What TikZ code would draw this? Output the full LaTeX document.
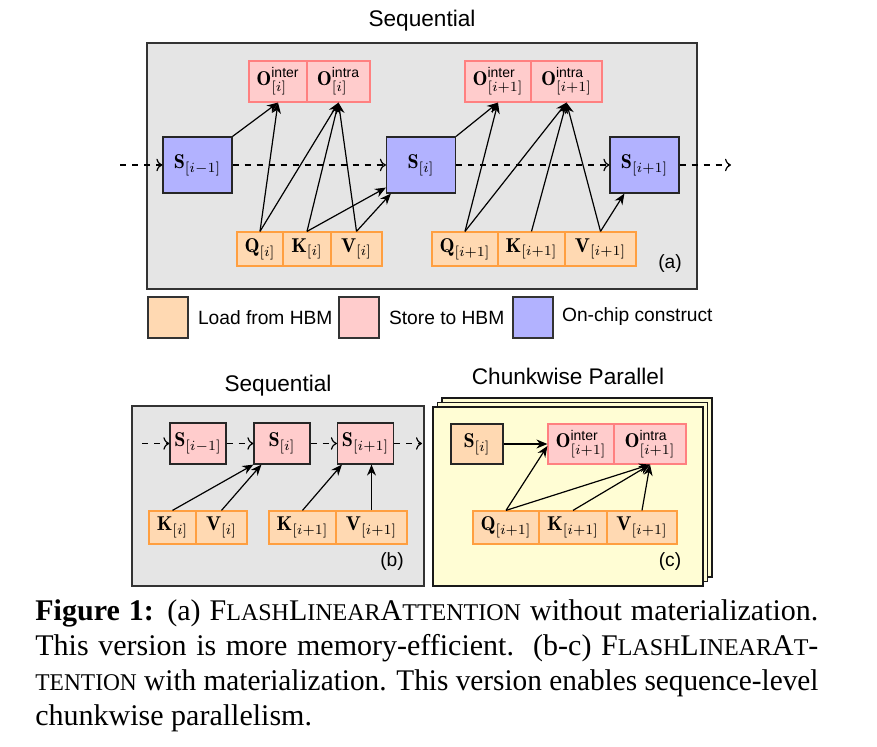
\documentclass[tikz,border=0pt]{standalone}
\usepackage{fontspec}
\usepackage{amsmath}
\usepackage{graphicx}
\setsansfont{Liberation Sans}
\newfontfamily\capfont{Liberation Serif}
\usetikzlibrary{arrows.meta,calc}
\newcommand{\fsc}[1]{{\fontsize{12}{17.5}\selectfont #1}}
\newsavebox{\jlinebox}
\newcommand{\jline}[1]{\sbox{\jlinebox}{#1}\ifdim\wd\jlinebox>391.5pt\relax\resizebox{391.5pt}{\height}{#1}\else\makebox[391.5pt][s]{#1}\fi}
\tikzset{
  box/.style={rectangle, inner sep=0pt, font=\fontsize{10}{12}\selectfont, line width=0.6pt},
  ld/.style={box, fill=orange!30, draw=orange!75},
  st/.style={box, fill=red!20, draw=red!50},
  chip/.style={box, fill=blue!30, draw=black!85},
  stb/.style={box, fill=red!20, draw=black!85},
  ldb/.style={box, fill=orange!30, draw=black!85},
  panel/.style={fill=black!10, draw=black!80, line width=0.8pt},
  page/.style={fill=yellow!17, draw=black!90, line width=0.8pt},
  arr/.style={-{Stealth[length=5.5pt,width=4.5pt]}, line width=0.6pt},
  darr/.style={-{To[length=3pt]}, dashed, line width=0.6pt},
  ttl/.style={font=\sffamily\fontsize{11.3}{13}\selectfont},
  lbl/.style={font=\sffamily\fontsize{9.6}{11}\selectfont},
  leg/.style={rectangle, draw=black!80, line width=0.6pt, minimum width=20pt, minimum height=20.5pt, inner sep=0pt}
}
\begin{document}
\begin{tikzpicture}[x=0.5pt,y=-0.5pt]
\useasboundingbox (0,0) rectangle (877,747);

% ---------- panel (a) ----------
\node[ttl] (ta) at (422,21) {Sequential};
\draw[panel] (147,43) rectangle (697,289);
\node[lbl] (la) at (670,264) {(a)};

\node[chip, minimum width=34.5pt, minimum height=28pt] (sa0) at (197.5,165) {$\mathbf{S}_{[i-1]}$};
\node[chip, minimum width=34.5pt, minimum height=28pt] (sa1) at (421,165) {$\mathbf{S}_{[i]}$};
\node[chip, minimum width=34.5pt, minimum height=28pt] (sa2) at (644.5,165) {$\mathbf{S}_{[i+1]}$};

\node[st, minimum width=29pt, minimum height=20.5pt] (oa1) at (278,81.5) {$\mathbf{O}^{\textsf{inter}}_{[i]}$};
\node[st, minimum width=31.5pt, minimum height=20.5pt] (oa2) at (338.5,81.5) {$\mathbf{O}^{\textsf{intra}}_{[i]}$};
\node[st, minimum width=33pt, minimum height=20.5pt] (ob1) at (498,81.5) {$\mathbf{O}^{\textsf{inter}}_{[i+1]}$};
\node[st, minimum width=35.5pt, minimum height=20.5pt] (ob2) at (566.5,81.5) {$\mathbf{O}^{\textsf{intra}}_{[i+1]}$};

\node[ld, minimum width=23pt, minimum height=17pt] (qa) at (260,249) {$\mathbf{Q}_{[i]}$};
\node[ld, minimum width=24pt, minimum height=17pt] (ka) at (307,249) {$\mathbf{K}_{[i]}$};
\node[ld, minimum width=25.5pt, minimum height=17pt] (va) at (356.5,249) {$\mathbf{V}_{[i]}$};
\node[ld, minimum width=33pt, minimum height=17pt] (qb) at (465,249) {$\mathbf{Q}_{[i+1]}$};
\node[ld, minimum width=33.5pt, minimum height=17pt] (kb) at (531.5,249) {$\mathbf{K}_{[i+1]}$};
\node[ld, minimum width=35.5pt, minimum height=17pt] (vb) at (600.5,249) {$\mathbf{V}_{[i+1]}$};

\coordinate (ina) at (120,165);
\coordinate (outa) at (731,165);
\draw[darr] (ina) -- (sa0);
\draw[darr] (sa0) -- (sa1);
\draw[darr] (sa1) -- (sa2);
\draw[darr] (sa2) -- (outa);

\draw[arr] (sa0.north east) -- (oa1.south);
\draw[arr] (qa.north) -- (oa1.south);
\draw[arr] (qa.north) -- (oa2.south);
\draw[arr] (ka.north) -- (oa2.south);
\draw[arr] (va.north) -- (oa2.south);
\draw[arr] (ka.north) -- ([yshift=3pt]sa1.south west);
\draw[arr] (va.north) -- ([xshift=2.5pt]sa1.south west);

\draw[arr] (sa1.north east) -- (ob1.south);
\draw[arr] (qb.north) -- (ob1.south);
\draw[arr] (qb.north) -- (ob2.south);
\draw[arr] (kb.north) -- (ob2.south);
\draw[arr] (vb.north) -- (ob2.south);
\draw[arr] (vb.north) -- ([xshift=7.5pt]sa2.south west);

% ---------- legend ----------
\node[leg, fill=orange!30] (lg1) at (168,317.5) {};
\node[lbl, anchor=west] (lt1) at (191,318) {Load from HBM};
\node[leg, fill=red!20] (lg2) at (359,317.5) {};
\node[lbl, anchor=west] (lt2) at (382,318) {Store to HBM};
\node[leg, fill=blue!30] (lg3) at (533,317.5) {};
\node[lbl, anchor=west] (lt3) at (555,317) {On-chip construct};

% ---------- panel (b) ----------
\node[ttl] (tb) at (278,386) {Sequential};
\draw[panel] (132,406) rectangle (424,586);
\node[lbl] (lb) at (392,562) {(b)};

\node[stb, minimum width=28pt, minimum height=20.5pt] (sb0) at (198,443.5) {$\mathbf{S}_{[i-1]}$};
\node[stb, minimum width=28pt, minimum height=20.5pt] (sb1) at (282,443.5) {$\mathbf{S}_{[i]}$};
\node[stb, minimum width=28pt, minimum height=20.5pt] (sb2) at (365.5,443.5) {$\mathbf{S}_{[i+1]}$};

\node[ld, minimum width=23.5pt, minimum height=16.5pt] (kc) at (172.5,527.5) {$\mathbf{K}_{[i]}$};
\node[ld, minimum width=25.5pt, minimum height=16.5pt] (vc) at (221.5,527.5) {$\mathbf{V}_{[i]}$};
\node[ld, minimum width=33.5pt, minimum height=16.5pt] (kd) at (302.5,527.5) {$\mathbf{K}_{[i+1]}$};
\node[ld, minimum width=35.5pt, minimum height=16.5pt] (vd) at (371.5,527.5) {$\mathbf{V}_{[i+1]}$};

\coordinate (inb) at (142,443.5);
\coordinate (outb) at (422,443.5);
\draw[darr] (inb) -- (sb0);
\draw[darr] (sb0) -- (sb1);
\draw[darr] (sb1) -- (sb2);
\draw[darr] (sb2) -- (outb);

\draw[arr] (kc.north) -- (sb1.south west);
\draw[arr] (vc.north) -- ([xshift=4pt]sb1.south west);
\draw[arr] (kd.north) -- ([xshift=2.5pt]sb2.south west);
\draw[arr] (vd.north) -- (vd.north |- sb2.south);

% ---------- panel (c) ----------
\node[ttl] (tc) at (568,376) {Chunkwise Parallel};
\draw[page] (442,398) rectangle (712,577);
\draw[page] (437.5,402.5) rectangle (707.5,581.5);
\draw[page] (433,407) rectangle (703,586);
\node[lbl] (lc) at (670,562) {(c)};

\node[ldb, minimum width=26pt, minimum height=20pt] (se) at (477,444) {$\mathbf{S}_{[i]}$};
\node[st, minimum width=33pt, minimum height=20pt] (oe1) at (581,444) {$\mathbf{O}^{\textsf{inter}}_{[i+1]}$};
\node[st, minimum width=36pt, minimum height=20pt] (oe2) at (650,444) {$\mathbf{O}^{\textsf{intra}}_{[i+1]}$};
\node[ld, minimum width=33pt, minimum height=16.5pt] (qe) at (506,527.5) {$\mathbf{Q}_{[i+1]}$};
\node[ld, minimum width=34pt, minimum height=16.5pt] (ke) at (573,527.5) {$\mathbf{K}_{[i+1]}$};
\node[ld, minimum width=35pt, minimum height=16.5pt] (ve) at (642,527.5) {$\mathbf{V}_{[i+1]}$};

\draw[arr] (se.east) -- (oe1.west);
\draw[arr] (qe.north) -- ([yshift=-1pt]oe1.west);
\draw[arr] (qe.north) -- (oe2.south);
\draw[arr] (ke.north) -- (oe2.south);
\draw[arr] (ve.north) -- (oe2.south);

% ---------- caption ----------
\node[anchor=north west, inner sep=0pt, align=left,
      font=\capfont\fontsize{15}{17.5}\selectfont] (cap) at (35,599)
{\jline{{\bfseries Figure 1:} (a) F\fsc{LASH}L\fsc{INEAR}A\fsc{TTENTION} without materialization.}\\
\jline{This version is more memory-efficient.\ \ (b-c) F\fsc{LASH}L\fsc{INEAR}A\fsc{T}-}\\
\jline{\fsc{TENTION} with materialization. This version enables sequence-level}\\
chunkwise parallelism.};
\end{tikzpicture}
\end{document}
